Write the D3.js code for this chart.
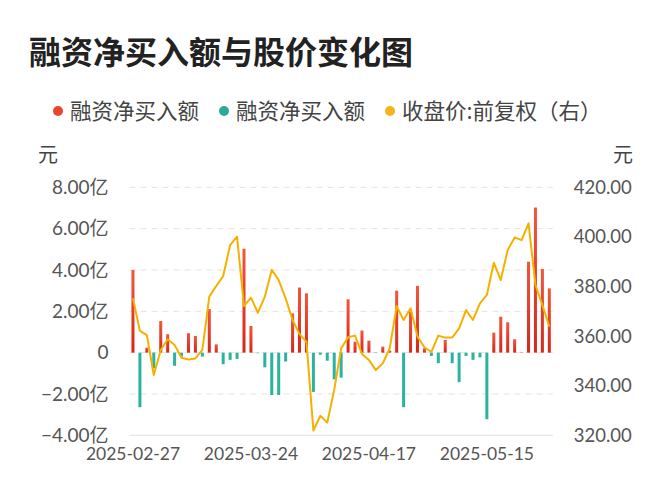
<!DOCTYPE html>
<html>
<head>
<meta charset="utf-8">
<script src="https://cdn.jsdelivr.net/npm/d3@7.9.0/dist/d3.min.js"></script>
<style>
  html, body { margin: 0; padding: 0; background: #fff; }
  svg { display: block; }
</style>
</head>
<body>
<div id="chart"></div>
<script>
// trading days, 2025-02-27 .. 2025-05-28
const dates = [
  '2025-02-27','2025-02-28',
  '2025-03-03','2025-03-04','2025-03-05','2025-03-06','2025-03-07',
  '2025-03-10','2025-03-11','2025-03-12','2025-03-13','2025-03-14',
  '2025-03-17','2025-03-18','2025-03-19','2025-03-20','2025-03-21',
  '2025-03-24','2025-03-25','2025-03-26','2025-03-27','2025-03-28',
  '2025-03-31','2025-04-01','2025-04-02','2025-04-03',
  '2025-04-07','2025-04-08','2025-04-09','2025-04-10','2025-04-11',
  '2025-04-14','2025-04-15','2025-04-16','2025-04-17','2025-04-18',
  '2025-04-21','2025-04-22','2025-04-23','2025-04-24','2025-04-25',
  '2025-04-28','2025-04-29','2025-04-30',
  '2025-05-06','2025-05-07','2025-05-08','2025-05-09',
  '2025-05-12','2025-05-13','2025-05-14','2025-05-15','2025-05-16',
  '2025-05-19','2025-05-20','2025-05-21','2025-05-22','2025-05-23',
  '2025-05-26','2025-05-27','2025-05-28'
];

// 融资净买入额, 亿元
const netBuy = [
  4.00, -2.64, 0.24, -0.76, 1.53, 0.89, -0.64, -0.19, 0.94, 0.81,
  -0.19, 2.11, 0.40, -0.56, -0.35, -0.30, 5.03, 1.29, -0.03, -0.71,
  -2.05, -2.05, -0.43, 1.90, 3.15, 2.87, -1.90, -0.10, -0.39, -1.29,
  -1.21, 2.58, 0.53, 1.07, 0.58, -0.02, 0.29, 0.10, 3.00, -2.64,
  1.98, 3.23, 0.21, -0.16, -0.51, 0.61, -0.51, -1.43, -0.16, -0.35,
  -0.23, -3.22, 0.97, 1.74, 1.47, 0.65, 0.02, 4.40, 7.02, 4.05,
  3.11
];

// 收盘价:前复权, 元
const closePrice = [
  375.2, 362.1, 360.4, 344.3, 354.4, 358.7, 356.4, 351.3, 350.6, 351.0,
  354.4, 375.9, 380.2, 384.2, 396.7, 400.1, 372.1, 375.5, 369.4, 375.9,
  386.7, 382.6, 375.2, 366.5, 360.8, 357.7, 321.9, 327.9, 325.1, 338.3,
  355.1, 359.5, 360.2, 352.8, 350.4, 346.3, 349.0, 355.1, 372.1, 366.5,
  371.2, 359.8, 355.5, 353.6, 360.2, 359.4, 359.4, 363.1, 370.5, 366.5,
  373.2, 376.6, 389.6, 382.6, 394.7, 399.8, 398.7, 405.5, 380.6, 372.5,
  363.8
];

const leftTicks = [-4, -2, 0, 2, 4, 6, 8];
const rightTicks = [320, 340, 360, 380, 400, 420];
const xTickDates = ['2025-02-27', '2025-03-24', '2025-04-17', '2025-05-15'];
const legendItems = [
  { label: '融资净买入额', color: '#e8472c' },
  { label: '融资净买入额', color: '#2aab98' },
  { label: '收盘价:前复权（右）', color: '#f6b619' }
];

const width = 672, height = 500;
const cjk = '"Noto Sans CJK SC", "Noto Sans", sans-serif';
const num = 'Lato, "Noto Sans CJK SC", sans-serif';

const svg = d3.select('#chart').append('svg')
  .attr('width', width)
  .attr('height', height);

const defs = svg.append('defs');
const grad = defs.append('linearGradient')
  .attr('id', 'redGrad')
  .attr('x1', 0).attr('y1', 0).attr('x2', 0).attr('y2', 1);
grad.append('stop').attr('offset', '0%').attr('stop-color', '#f2573a');
grad.append('stop').attr('offset', '100%').attr('stop-color', '#d8261b');

const plot = { left: 129.5, right: 552.8, top: 187.3, bottom: 435.3 };

const x = d3.scaleBand()
  .domain(dates)
  .range([plot.left, plot.right]);

const yL = d3.scaleLinear().domain([-4, 8]).range([plot.bottom, plot.top]);
const yR = d3.scaleLinear().domain([320, 420]).range([plot.bottom, plot.top]);

// title
svg.append('text')
  .attr('x', 29).attr('y', 64)
  .attr('font-family', cjk)
  .attr('font-size', 32)
  .attr('font-weight', 'bold')
  .attr('fill', '#222')
  .text('融资净买入额与股价变化图');

// legend
let lx = 58;
legendItems.forEach(item => {
  svg.append('circle')
    .attr('cx', lx).attr('cy', 111).attr('r', 5)
    .attr('fill', item.color);
  const t = svg.append('text')
    .attr('x', lx + 12).attr('y', 118.5)
    .attr('font-family', cjk)
    .attr('font-size', 21.5)
    .attr('fill', '#444')
    .text(item.label);
  lx += t.node().getComputedTextLength() + 12 + 25;
});

// units
svg.append('text').attr('x', 38).attr('y', 162)
  .attr('font-family', cjk).attr('font-size', 20).attr('fill', '#444').text('元');
svg.append('text').attr('x', 613).attr('y', 162)
  .attr('font-family', cjk).attr('font-size', 20).attr('fill', '#444').text('元');

// grid
svg.append('g')
  .selectAll('line')
  .data(leftTicks.filter(d => d !== -4))
  .join('line')
  .attr('x1', plot.left).attr('x2', plot.right)
  .attr('y1', d => yL(d)).attr('y2', d => yL(d))
  .attr('stroke', '#e3e3e3')
  .attr('stroke-width', 1)
  .attr('stroke-dasharray', '6,5');

svg.append('line')
  .attr('x1', plot.left).attr('x2', plot.right)
  .attr('y1', yL(-4)).attr('y2', yL(-4))
  .attr('stroke', '#e0e0e0');

// left axis
const leftAxis = svg.append('g')
  .attr('transform', `translate(${plot.left},0)`)
  .call(d3.axisLeft(yL).tickValues(leftTicks).tickSize(0).tickPadding(21)
    .tickFormat(d => d === 0 ? '0' : d3.format('.2f')(d) + '亿'));
leftAxis.select('.domain').remove();
leftAxis.selectAll('text')
  .attr('font-family', num).attr('font-size', 19).attr('fill', '#555');

// right axis
const rightAxis = svg.append('g')
  .attr('transform', `translate(${plot.right},0)`)
  .call(d3.axisRight(yR).tickValues(rightTicks).tickSize(0).tickPadding(21)
    .tickFormat(d3.format('.2f')));
rightAxis.select('.domain').remove();
rightAxis.selectAll('text')
  .attr('font-family', num).attr('font-size', 18.5).attr('fill', '#555');

// x axis
const xAxis = svg.append('g')
  .attr('transform', `translate(0,${plot.bottom})`)
  .call(d3.axisBottom(x).tickValues(xTickDates).tickSize(0).tickPadding(12));
xAxis.select('.domain').remove();
xAxis.selectAll('text')
  .attr('font-family', num).attr('font-size', 17.5).attr('fill', '#555');

// bars
const barW = 3;
svg.append('g')
  .selectAll('rect')
  .data(dates.map((d, i) => ({ date: d, v: netBuy[i] })))
  .join('rect')
  .attr('x', d => x(d.date) + x.bandwidth() / 2 - barW / 2)
  .attr('width', barW)
  .attr('y', d => d.v >= 0 ? yL(d.v) : yL(0))
  .attr('height', d => Math.abs(yL(d.v) - yL(0)))
  .attr('fill', d => d.v >= 0 ? 'url(#redGrad)' : '#2bb39f');

// price line
const line = d3.line()
  .x((d, i) => x(dates[i]) + x.bandwidth() / 2)
  .y(d => yR(d));

svg.append('path')
  .datum(closePrice)
  .attr('d', line)
  .attr('fill', 'none')
  .attr('stroke', '#f5b100')
  .attr('stroke-width', 2)
  .attr('stroke-linejoin', 'round');
</script>
</body>
</html>
